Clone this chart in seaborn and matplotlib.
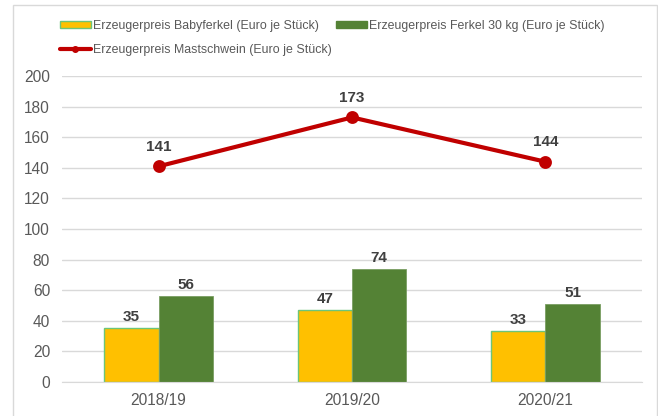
import matplotlib.pyplot as plt
import seaborn as sns
import pandas as pd
from matplotlib.patches import Rectangle
from matplotlib.lines import Line2D

years = ['2018/19', '2019/20', '2020/21']
babyferkel = [35, 47, 33]
ferkel30 = [56, 74, 51]
mastschwein = [141, 173, 144]

lab_baby = 'Erzeugerpreis Babyferkel (Euro je Stück)'
lab_ferkel = 'Erzeugerpreis Ferkel 30 kg (Euro je Stück)'
lab_mast = 'Erzeugerpreis Mastschwein (Euro je Stück)'

df = pd.DataFrame({
    'Jahr': years * 2,
    'Preis': babyferkel + ferkel30,
    'Serie': [lab_baby] * 3 + [lab_ferkel] * 3,
})

sns.set_style('white')
plt.rcParams['font.family'] = ['Liberation Sans', 'DejaVu Sans']

fig = plt.figure(figsize=(6.58, 4.16), dpi=100)
ax = fig.add_axes([0.094, 0.082, 0.882, 0.735])

yellow = '#FFC000'
green = '#548235'
red = '#C00000'

sns.barplot(data=df, x='Jahr', y='Preis', hue='Serie', palette=[yellow, green],
            width=0.56, gap=0, saturation=1, ax=ax, legend=False, zorder=2)
# edges
for i, p in enumerate(ax.patches):
    if i < 3:
        p.set_edgecolor('#6cc57a')
        p.set_linewidth(1.0)
    else:
        p.set_edgecolor('#7a9e63')
        p.set_linewidth(0.6)

sns.pointplot(x=years, y=mastschwein, color=red, markers='o', ax=ax,
              linewidth=3, markersize=7, zorder=3)

# value labels
for bars in ax.containers:
    for p in bars:
        h = p.get_height()
        ax.annotate(f'{h:.0f}', (p.get_x() + p.get_width() / 2, h),
                    xytext=(0, 3), textcoords='offset points', ha='center',
                    va='bottom', fontsize=11, fontweight='bold', color='#404040')
for i, v in enumerate(mastschwein):
    ax.annotate(f'{v}', (i, v), xytext=(0, 9), textcoords='offset points',
                ha='center', va='bottom', fontsize=11, fontweight='bold',
                color='#404040')

ax.set_ylim(0, 200)
ax.set_yticks(range(0, 201, 20))
ax.set_xlim(-0.5, 2.5)
ax.set_xlabel('')
ax.set_ylabel('')
ax.yaxis.grid(True, color='#d9d9d9', linewidth=1)
ax.set_axisbelow(True)
for s in ['top', 'right', 'left']:
    ax.spines[s].set_visible(False)
ax.spines['bottom'].set_color('#d9d9d9')
ax.tick_params(axis='both', length=0, labelsize=11.2, labelcolor='#595959', pad=8)
ax.tick_params(axis='y', pad=8.5)

# legend
handles = [
    Rectangle((0, 0), 1, 1, facecolor=yellow, edgecolor='#6cc57a', linewidth=1),
    Rectangle((0, 0), 1, 1, facecolor=green, edgecolor=green),
    Line2D([0], [0], color=red, linewidth=3, marker='o', markersize=4),
]
fig.legend(handles[:2], [lab_baby, lab_ferkel], loc='upper left',
           bbox_to_anchor=(0.091, 0.952), ncol=2, frameon=False, fontsize=8.9,
           labelcolor='#595959', handlelength=2.5, handleheight=0.5,
           handletextpad=0.15, columnspacing=1.45, borderpad=0, borderaxespad=0)
fig.legend(handles[2:], [lab_mast], loc='upper left',
           bbox_to_anchor=(0.091, 0.894), frameon=False, fontsize=8.9,
           labelcolor='#595959', handlelength=2.5, handletextpad=0.15,
           borderpad=0, borderaxespad=0)

# outer frame
fig.patches.append(Rectangle((0.02, -0.1), 0.978, 1.087, transform=fig.transFigure,
                             fill=False, edgecolor='#d9d9d9', linewidth=1))

fig.savefig('out.png', dpi=100)
